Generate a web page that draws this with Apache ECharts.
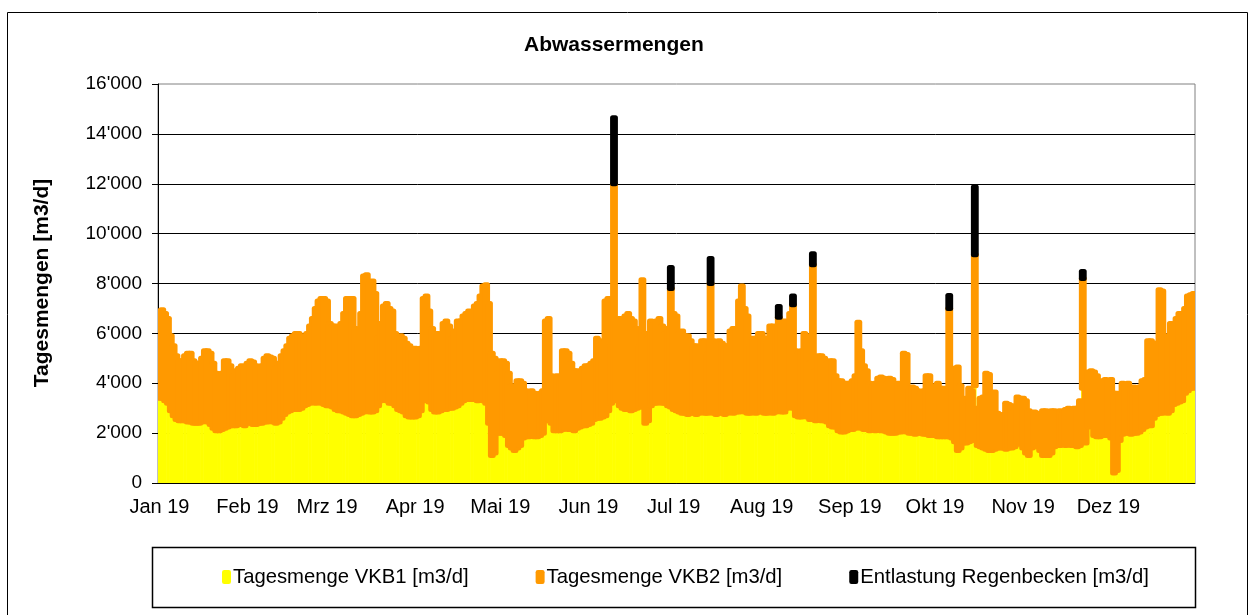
<!DOCTYPE html>
<html>
<head>
<meta charset="utf-8">
<script src="https://cdn.jsdelivr.net/npm/echarts@6/dist/echarts.min.js"></script>
<style>
  html, body { margin: 0; padding: 0; background: #fff; }
  #chart { width: 1252px; height: 615px; }
</style>
</head>
<body>
<div id="chart"></div>
<script>
// Tagesmengen 2019, ein Wert pro Tag (Jan..Dez, je Zeile ein Monat)
const vkb1 = [
  3400,3400,3300,3200,2900,2700,2550,2500,2500,2500,2450,2450,2400,2400,2400,2450,2500,2450,2350,2200,2100,2100,2150,2200,2250,2300,2300,2300,2350,2350,2300,
  2400,2400,2350,2350,2400,2400,2450,2450,2500,2450,2400,2450,2600,2750,2850,2900,2950,2950,2950,3000,3100,3150,3200,3250,3200,3250,3200,3150,
  3100,3100,3050,2950,2900,2900,2850,2800,2750,2700,2700,2750,2800,2850,2900,2850,2850,2900,3100,3300,3350,3300,3200,3200,3100,2950,2900,2850,2700,2650,2650,
  2650,2700,2900,3300,3350,3250,2950,2850,2850,2900,2950,2950,3000,3000,3050,3100,3200,3300,3350,3350,3350,3350,3300,3350,3300,3200,2400,1100,1200,2000,
  2000,2000,1900,1500,1400,1300,1400,1500,1800,1850,1850,1900,1850,1850,1900,2000,2500,2550,2400,2100,2100,2100,2150,2200,2150,2150,2100,2200,2250,2300,2300,
  2350,2400,2550,2600,2600,2650,2700,2900,3200,3350,3300,3100,3000,2950,2950,2900,2950,3000,3050,3050,2400,2500,3100,3200,3200,3250,3200,3200,3100,3050,
  2950,2900,2850,2800,2800,2750,2800,2800,2750,2800,2850,2800,2800,2900,2800,2750,2800,2800,2750,2800,2850,2800,2850,2850,2900,2850,2800,2800,2850,2800,2850,
  2850,2800,2800,2850,2800,2850,2900,2850,2850,3000,3050,3000,2700,2650,2650,2700,2650,2550,2600,2500,2550,2500,2500,2450,2300,2250,2250,2100,2050,2050,2100,
  2150,2150,2200,2250,2200,2150,2150,2100,2150,2100,2150,2100,2100,2050,2000,2000,2000,2050,2050,2100,2050,2000,2000,1950,2000,2000,1950,1950,1900,1900,
  1900,1850,1850,1850,1850,1850,1800,1650,1300,1400,1600,1600,1650,1700,3900,1500,1450,1400,1350,1300,1300,1350,1400,1400,1400,1350,1400,1400,1450,1550,1600,
  1400,1200,1100,1400,1450,1450,1300,1100,1100,1100,1200,1450,1500,1500,1550,1500,1550,1500,1500,1450,1500,3800,1600,2250,2300,1900,1850,1850,1900,1900,
  1900,1800,400,500,1700,1950,2000,2000,1950,2000,2000,2050,2150,2250,2300,2300,2600,2750,2800,2800,2850,2800,2900,3150,3200,3250,3300,3600,3700,3800,3800
];
const vkb2 = [
  3500,3550,3500,3400,3000,2800,2550,2400,2400,2600,2750,2750,2500,2400,2400,2550,2800,2850,2850,2600,2300,2100,2250,2700,2650,2400,2000,2200,2250,2350,2300,
  2400,2500,2500,2350,2200,2300,2550,2650,2550,2550,2200,2350,2500,2550,2650,2900,2950,3050,3050,2900,2700,2850,3100,3350,3800,4050,4200,4250,
  4200,3300,3250,3350,3200,3500,3950,4600,4650,4700,3500,2850,4000,5450,5450,5150,5250,4700,2700,3100,3750,3900,3800,3700,2900,2850,3000,2950,2900,2850,2650,
  2750,2600,2500,4100,4150,3650,3250,3050,3150,3000,3450,3550,3300,2800,3050,3400,3300,3400,3450,3550,3250,3750,3900,4150,4600,4750,4800,4100,3800,2400,
  2900,2900,2900,2900,2500,2500,2700,2600,2200,1850,1750,1800,1750,1650,1700,1700,4000,4050,1900,1700,2200,2100,3150,3100,3050,2650,2400,2300,2150,2300,2400,
  2350,2400,2350,3200,3100,2950,4600,4500,2300,8650,3200,3500,3500,3750,3850,3700,3550,3200,2450,5100,3600,3300,3400,3200,3300,3350,3100,2800,3100,4750,
  3850,3800,3150,3300,3100,3150,2900,2700,2750,2600,2850,2900,2400,5100,2900,2850,2900,2800,2750,2700,3250,3400,3250,4450,5000,4150,3900,2700,2950,3000,3150,
  3150,3000,2800,3450,3500,3350,3750,3450,3650,3400,3750,4150,2600,2550,2650,3300,3250,2250,6150,2000,2550,2600,2500,2350,2600,2650,2050,2000,2050,1950,1900,
  1850,1950,2100,4200,3100,2550,2350,1900,1750,1900,2050,2150,2100,1950,2200,2150,1900,1950,1750,3100,3100,1800,1850,1850,1700,1600,1750,2350,2400,1900,
  2000,2150,1950,1950,1850,5150,2100,2950,3350,2500,1700,1800,2150,2000,5250,1500,1950,2050,3050,3050,2300,2300,1400,1300,1350,1850,1750,1700,1450,1900,1800,
  2000,2100,1800,1400,1400,1350,1400,1800,1800,1750,1700,1450,1350,1400,1250,1450,1450,1450,1500,1550,1800,4400,2400,2200,2200,2550,2450,1850,2200,2250,
  2200,2350,3200,3100,1800,2050,1950,2000,1850,1850,1800,1800,1950,1900,3400,3400,3000,2850,4950,4900,2950,3100,3500,3200,3400,3550,3500,3400,3800,3750,3800
];
// Entlastung Regenbecken nur an einzelnen Tagen
const entlastungTage = ['2019-06-10','2019-06-30','2019-07-14','2019-08-07','2019-08-12','2019-08-19','2019-10-06','2019-10-15','2019-11-22'];
const entlastungWerte = [2650, 840, 1000, 430, 350, 440, 520, 2720, 280];

const monate = ['Jan','Feb','Mrz','Apr','Mai','Jun','Jul','Aug','Sep','Okt','Nov','Dez'];
const yTicks = { min: 0, max: 16000, step: 2000 };

const FONT = '"Liberation Sans", Arial, sans-serif';

let tage = [];
for (let d = 0; d < 365; d++) {
  tage.push(new Date(Date.UTC(2019, 0, 1 + d)).toISOString().slice(0, 10));
}

// gestapelte Zeilen [Tag, unten, oben]
let rowsVkb1 = vkb1.map((v, i) => [i, 0, v]);
let rowsVkb2 = vkb2.map((v, i) => [i, vkb1[i], vkb1[i] + v]);
let rowsEntl = entlastungTage.map((t, k) => {
  let i = tage.indexOf(t);
  let basis = vkb1[i] + vkb2[i];
  return [i, basis, basis + entlastungWerte[k]];
});

// Excel-artige Säule: Rechteck mit dickem, rundem Rand
function saeule(farbe, rand, extra) {
  return function (params, api) {
    let unten = api.coord([api.value(0), api.value(1)]);
    let oben = api.coord([api.value(0), api.value(2)]);
    let breite = api.size([1, 0])[0] + extra;
    return {
      type: 'rect',
      shape: { x: unten[0] - breite / 2, y: oben[1], width: breite, height: unten[1] - oben[1] },
      style: { fill: farbe, stroke: rand ? farbe : null, lineWidth: rand, lineJoin: 'round' }
    };
  };
}

const monatsAnfang = (idx, val) => val.slice(8) === '01';

let chart = echarts.init(document.getElementById('chart'));
let option = {
  animation: false,
  backgroundColor: '#fff',
  textStyle: { fontFamily: FONT },
  title: {
    text: 'Abwassermengen',
    left: 524,
    top: 35,
    padding: 0,
    textStyle: { fontFamily: FONT, fontSize: 21, fontWeight: 'bold', color: '#000' }
  },
  grid: {
    left: 158, right: 57, top: 84, bottom: 132,
    show: true, borderColor: '#808080', borderWidth: 1
  },
  legend: {
    left: 222,
    top: 567,
    padding: 0,
    itemGap: 67,
    itemWidth: 9,
    itemHeight: 14,
    icon: 'roundRect',
    itemStyle: { borderWidth: 0 },
    textStyle: { fontFamily: FONT, fontSize: 20.3, color: '#000', padding: [0, 0, 0, -3] }
  },
  xAxis: {
    type: 'category',
    data: tage,
    boundaryGap: true,
    axisLine: { lineStyle: { color: '#000', width: 1 } },
    axisTick: { interval: monatsAnfang, length: 6, lineStyle: { color: '#000' } },
    axisLabel: {
      interval: monatsAnfang,
      formatter: v => monate[+v.slice(5, 7) - 1] + ' 19',
      fontFamily: FONT, fontSize: 20, color: '#000', margin: 14
    },
    splitLine: { show: false }
  },
  yAxis: {
    type: 'value',
    min: yTicks.min, max: yTicks.max, interval: yTicks.step,
    axisLine: { show: true, lineStyle: { color: '#000', width: 1 } },
    axisTick: { show: true, length: 6, lineStyle: { color: '#000' } },
    axisLabel: {
      formatter: v => String(v).replace(/\B(?=(\d{3})+$)/g, "'"),
      fontFamily: FONT, fontSize: 19, color: '#000', margin: 16
    },
    splitLine: { show: true, showMaxLine: false, lineStyle: { color: '#000', width: 1 } }
  },
  graphic: [
    { type: 'rect', silent: true, shape: { x: 7.5, y: 12.5, width: 1240, height: 640 },
      style: { fill: null, stroke: '#000', lineWidth: 1 } },
    { type: 'rect', silent: true, shape: { x: 152.5, y: 547.5, width: 1043, height: 60 },
      style: { fill: null, stroke: '#000', lineWidth: 1.5 } },
    { type: 'text', silent: true, x: 42, y: 283, rotation: Math.PI / 2,
      style: { text: 'Tagesmengen [m3/d]', fill: '#000', font: 'bold 21px ' + FONT,
               textAlign: 'center', textVerticalAlign: 'middle' } }
  ],
  series: [
    {
      name: 'Tagesmenge VKB1 [m3/d]', type: 'custom', data: rowsVkb1,
      encode: { x: 0, y: [1, 2] }, clip: true,
      itemStyle: { color: '#ffff00' },
      renderItem: saeule('#ffff00', 0, 0.6),
      emphasis: { disabled: true }
    },
    {
      name: 'Tagesmenge VKB2 [m3/d]', type: 'custom', data: rowsVkb2,
      encode: { x: 0, y: [1, 2] }, clip: true,
      itemStyle: { color: '#ff9900' },
      renderItem: saeule('#ff9900', 5, 0),
      emphasis: { disabled: true }
    },
    {
      name: 'Entlastung Regenbecken [m3/d]', type: 'custom', data: rowsEntl,
      encode: { x: 0, y: [1, 2] }, clip: true,
      itemStyle: { color: '#000000' },
      renderItem: saeule('#000000', 5, 0),
      emphasis: { disabled: true }
    }
  ]
};
chart.setOption(option);
</script>
</body>
</html>
